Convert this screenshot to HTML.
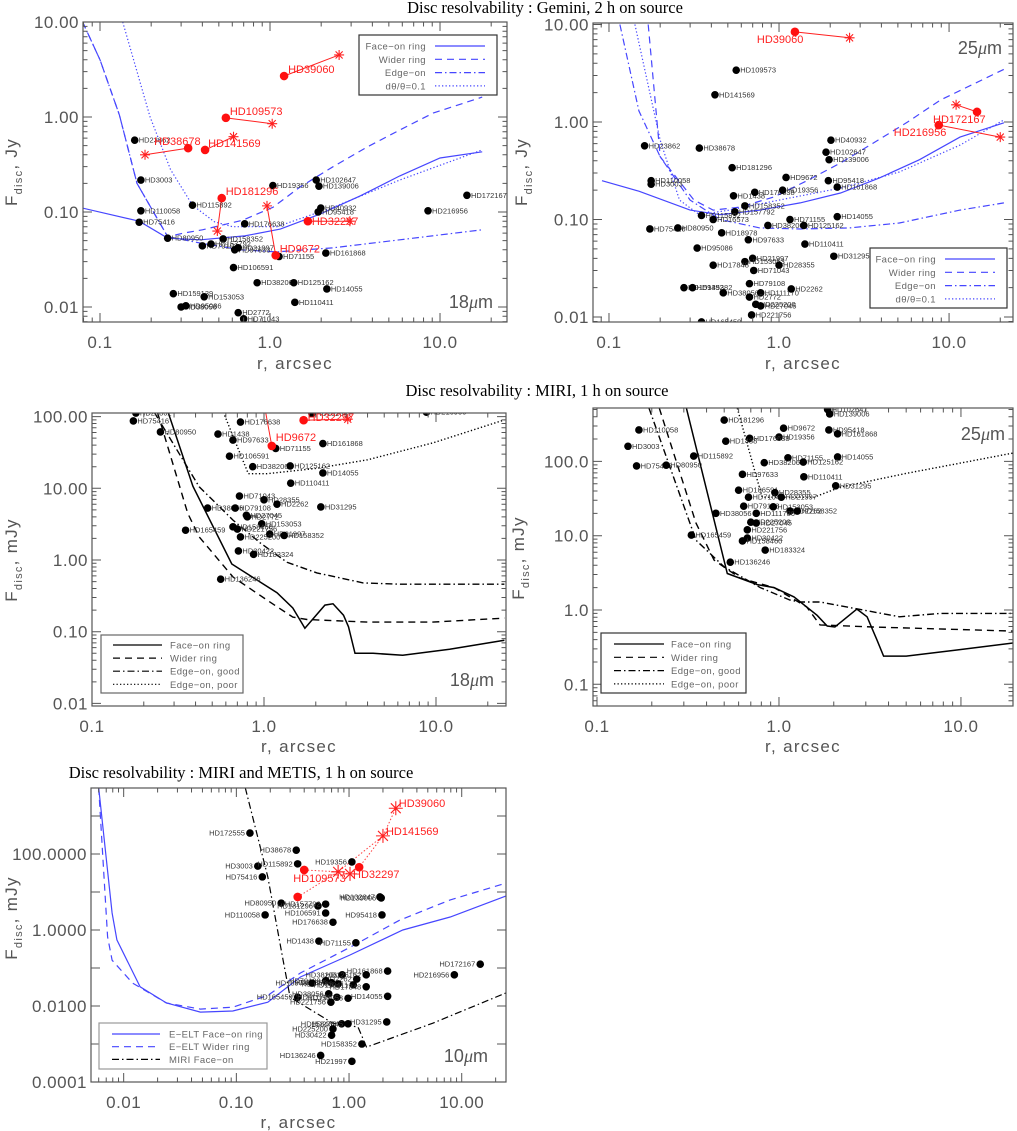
<!DOCTYPE html>
<html><head><meta charset="utf-8"><style>
body{margin:0;background:#fff}
svg{display:block}
text{font-family:"Liberation Sans",sans-serif}
.tt{font-family:"Liberation Serif",serif;font-size:16.5px;fill:#000}
.tk{font-size:17px;fill:#555;letter-spacing:0.5px}
.ax{font-size:17px;fill:#555;letter-spacing:1.3px}
.lb{font-size:7.5px;fill:#333}
.rl{font-size:11px;fill:#ff2020}
.lg{font-size:9.5px;fill:#666;letter-spacing:0.4px}
.wl{font-size:18px;fill:#555}
</style></head><body>
<svg id="chart" width="1017" height="1131" viewBox="0 0 1017 1131" xmlns="http://www.w3.org/2000/svg">
<text class="tt" x="545" y="13" text-anchor="middle">Disc resolvability : Gemini, 2 h on source</text>
<text class="tt" x="537" y="396" text-anchor="middle">Disc resolvability : MIRI, 1 h on source</text>
<text class="tt" x="241" y="778" text-anchor="middle">Disc resolvability : MIRI and METIS, 1 h on source</text>
</svg>
<script>
// ===== Panel A: Gemini 18um =====
const aNames=["HD23862","HD3003","HD110058","HD75416","HD80950","HD115892","HD19356","HD102647","HD139006","HD40932","HD95418","HD172167","HD216956","HD176638","HD158352","HD79108","HD157792","HD97633","HD21997","HD71155","HD161868","HD106591","HD38206","HD125162","HD14055","HD110411","HD159139","HD153053","HD38056","HD95086","HD2772","HD71043"];
const aR=[.16,.174,.174,.17,.25,.35,1.04,1.87,1.94,1.99,1.92,14.4,8.5,.71,.53,.40,.45,.62,.65,1.13,2.13,.61,.84,1.38,2.16,1.40,.27,.41,.30,.32,.65,.70];
const aF=[.57,.217,.103,.078,.053,.118,.19,.217,.187,.11,.10,.15,.103,.075,.052,.044,.046,.040,.042,.034,.037,.026,.018,.018,.0155,.0112,.0138,.0128,.010,.0103,.0087,.0075];
const aRedNames=["HD39060","HD109573","HD38678","HD141569","HD181296","HD9672","HD32297"];
const aRedCR=[1.21,.55,.33,.415,.52,1.08,1.67];
const aRedCF=[2.7,.98,.47,.45,.14,.035,.08];
const aRedSR=[2.55,1.03,.184,.61,.49,.96,2.95];
const aRedSF=[4.5,.85,.40,.62,.063,.116,.08];
const aFaceR=[.079,.17,.25,.39,.71,1.15,1.97,3.4,5.8,10,17.7];
const aFaceF=[.11,.080,.053,.051,.056,.066,.095,.148,.24,.37,.43];
const aWideR=[.079,.1,.13,.165,.25,.31,.40,.69,1.04,1.5,2.35,3.7,5.8,9.1,17.7];
const aWideF=[10,4,1.05,.2,.055,.06,.065,.082,.112,.183,.3,.48,.73,1.1,1.62];
const aEdgeR=[.079,.1,.13,.165,.25,.39,.67,1.1,2.35,5.8,17.7];
const aEdgeF=[10,4,1.05,.2,.055,.047,.04,.038,.042,.051,.065];
const aDotR=[.136,.197,.26,.35,.47,.6,1.1,2.35,5.8,17.7];
const aDotF=[10,1,.28,.118,.079,.07,.07,.112,.217,.45];

// ===== Panel B: Gemini 25um =====
const bNames=["HD109573","HD141569","HD23862","HD38678","HD181296","HD40932","HD102647","HD139006","HD9672","HD95418","HD161868","HD110058","HD3003","HD1438","HD176638","HD19356","HD158352","HD157792","HD115892","HD16573","HD71155","HD38206","HD125162","HD14055","HD75416","HD80950","HD18978","HD97633","HD110411","HD95086","HD31295","HD21997","HD153053","HD28355","HD71043","HD17848","HD79108","HD159492","HD135382","HD38056","HD111170","HD2772","HD2262","HD225200","HD27045","HD221756","HD165459"];
const bR=[.56,.42,.162,.34,.53,2.02,1.89,1.97,1.1,1.95,2.2,.177,.177,.54,.72,1.05,.63,.55,.35,.41,1.16,.86,1.4,2.2,.174,.254,.46,.66,1.42,.33,2.1,.70,.63,1.0,.71,.41,.67,.276,.31,.47,.78,.67,1.18,.73,.78,.69,.35];
const bF=[3.4,1.9,.57,.54,.34,.65,.49,.41,.27,.25,.215,.25,.23,.175,.19,.2,.138,.12,.11,.10,.10,.087,.087,.107,.08,.082,.073,.062,.056,.051,.042,.04,.037,.034,.030,.034,.022,.020,.020,.0177,.0177,.016,.0194,.0135,.013,.0105,.0089];
const bRedNames=["HD39060","HD172167","HD216956"];
const bRedCR=[1.24,14.6,8.7];
const bRedCF=[8.4,1.27,.93];
const bRedSR=[2.6,11,20];
const bRedSF=[7.3,1.5,.70];
const bFaceR=[.091,.15,.3,.45,.77,1.33,2.3,3.9,6.7,11.6,21];
const bFaceF=[.25,.195,.125,.112,.125,.148,.187,.267,.41,.70,.98];
const bWideR=[.17,.2,.316,.41,.59,.93,1.46,2.3,3.6,5.7,8.9,22];
const bWideF=[10,.44,.158,.125,.134,.17,.25,.38,.61,1.0,1.68,3.6];
const bEdgeR=[.116,.15,.2,.3,.45,.77,1.33,2.6,5.1,11.6,21];
const bEdgeF=[10,1.3,.44,.158,.1,.082,.08,.082,.092,.125,.148];
const bDotR=[.142,.2,.26,.34,.51,1.0,2.3,5.1,11.6,21];
const bDotF=[10,.65,.158,.112,.125,.158,.21,.307,.58,1.05];

// ===== Panel C: MIRI 18um =====
const cNames=["HD23862","HD75416","HD80950","HD176638","HD1438","HD97633","HD71155","HD161868","HD106591","HD38206","HD125162","HD14055","HD110411","HD71043","HD28355","HD2262","HD31295","HD38056","HD79108","HD27045","HD2772","HD153053","HD158460","HD221756","HD165459","HD21997","HD158352","HD225200","HD30422","HD183324","HD136246","HD102647","HD216956"];
const cR=[.18,.174,.25,.73,.54,.66,1.17,2.2,.63,.86,1.42,2.2,1.43,.72,1.0,1.19,2.14,.47,.68,.79,.80,.97,.66,.70,.35,1.08,1.31,.73,.71,.87,.56,1.9,8.8];
const cF=[112,87,61,84,57,47,36,42,28,20,20.5,16.4,11.8,7.8,6.9,6,5.5,5.3,5.3,4.2,4.0,3.2,2.9,2.7,2.6,2.3,2.2,2.1,1.34,1.2,.54,110,115];
const cRedNames=["HD32297","HD9672"];
const cRedCR=[1.7,1.11];
const cRedCF=[89,39];
const cRedSR=[3.07,.98];
const cRedSF=[92,200];
const cFaceR=[.277,.386,.65,1.19,1.47,1.73,2.26,2.52,2.9,3.1,3.38,4.3,6.4,12,25];
const cFaceF=[115,10.7,.88,.35,.214,.112,.235,.245,.17,.117,.05,.05,.047,.057,.076];
const cWideR=[.24,.36,.42,.66,1.04,1.47,1.78,4.0,9.6,25];
const cWideF=[115,4.5,2.1,.58,.277,.16,.148,.136,.136,.155];
const cGoodR=[.23,.42,.66,.95,1.36,2.03,3.77,6.2,25];
const cGoodF=[115,10.5,3.6,1.73,.93,.66,.48,.46,.46];
const cPoorR=[.58,.81,1.04,2.03,4,9.6,25];
const cPoorF=[115,16,16,19,25,43,90];

// ===== Panel D: MIRI 25um =====
const dNames=["HD139006","HD102647","HD181296","HD9672","HD95418","HD110058","HD161868","HD19356","HD176638","HD1438","HD3003","HD115892","HD14055","HD71155","HD38206","HD125162","HD75416","HD80950","HD97633","HD110411","HD31295","HD106591","HD28355","HD71043","HD21997","HD79108","HD153053","HD2262","HD158352","HD38056","HD111786","HD225200","HD27045","HD221756","HD165459","HD30422","HD158460","HD183324","HD136246"];
const dR=[1.9,1.85,.5,1.06,1.88,.17,2.1,1.0,.69,.51,.148,.34,2.1,1.12,.83,1.36,.165,.24,.63,1.37,2.05,.6,.95,.68,1.03,.64,.93,1.15,1.26,.45,.75,.70,.75,.67,.33,.67,.63,.84,.54];
const dF=[435,500,360,280,265,265,235,213,205,187,160,118,115,112,96,98,87,89,67,62,47,41,38,33,33,25,24.5,21.5,21.5,20,20,15.2,14.8,12,10.2,9.3,8.5,6.4,4.4];
const dFaceR=[.31,.52,.76,.94,1.21,1.62,1.84,2.03,2.68,3.05,3.45,3.76,5.0,9.5,19.4];
const dFaceF=[520,3.1,2.2,2.0,1.5,.85,.61,.59,1.03,.81,.4,.24,.24,.29,.36];
const dWideR=[.22,.35,.44,.61,.94,1.42,1.68,3.3,19.4];
const dWideF=[520,14.8,4.7,2.7,2.0,1.1,.63,.59,.52];
const dGoodR=[.193,.35,.50,.79,1.15,1.3,1.68,2.9,4.6,7.7,19.4];
const dGoodF=[520,8.7,3.8,2.0,1.36,1.28,1.28,1.0,.81,.9,.9];
const dPoorR=[.59,.76,.81,1.56,2.17,5.0,19.4];
const dPoorF=[520,56,33,33,45,69,130];

// ===== Panel E: MIRI and METIS 10um =====
const eNames=["HD172555","HD38678","HD3003","HD115892","HD19356","HD75416","HD102647","HD139006","HD80950","HD181296","HD157792","HD106591","HD110058","HD95418","HD176638","HD1438","HD71155","HD172167","HD216956","HD161868","HD38206","HD125162","HD2262","HD79108","HD28355","HD97633","HD18978","HD110411","HD17848","HD165459","HD38056","HD111786","HD153053","HD14055","HD221756","HD31295","HD158460","HD27045","HD225200","HD30422","HD158352","HD136246","HD21997"];
const eR=[.132,.34,.155,.35,1.06,.17,1.88,1.93,.25,.53,.62,.62,.18,1.96,.72,.54,1.15,14.6,8.6,2.2,.87,1.42,1.17,.62,.70,.80,.47,1.09,1.42,.35,.66,.78,.98,2.2,.69,2.16,.86,.98,.72,.70,1.3,.56,1.06];
const eF=[355,126,48,55,62,25,7.4,7,5.1,4.3,4.8,2.8,2.5,2.5,1.6,.51,.46,.126,.066,.083,.066,.066,.051,.046,.041,.038,.040,.036,.032,.017,.021,.017,.016,.018,.0126,.0038,.0034,.0034,.0025,.0017,.001,.0005,.00035];
const eRedNames=["HD109573","HD32297",""];
const eRedCR=[.4,1.23,.35];
const eRedCF=[38,45,7.4];
const eStarNames=["HD109573s","HD32297","HD141569","HD39060"];
const eStarR=[.8,1.02,2.0,2.6];
const eStarF=[34,30,300,1600];
const eChainR=[.35,.8,2.0,2.6];
const eChainF=[7.4,34,300,1600];
const eChain2R=[.4,.8,1.02,1.23,2.0];
const eChain2F=[38,34,30,45,300];
const eFaceR=[.006,.0079,.0087,.014,.024,.048,.093,.19,.37,1.02,3.0,7.9,24.6];
const eFaceF=[5500,2.8,.55,.032,.012,.0069,.0074,.0126,.058,.22,1.0,2.2,7.8];
const eWideR=[.006,.0072,.0079,.012,.024,.048,.093,.19,.37,1.02,2.8,7.9,24.6];
const eWideF=[5500,.66,.16,.04,.012,.0083,.0093,.019,.074,.35,1.8,6.2,17];
const eMiriR=[.12,.19,.26,.3,.72,1.2,1.43,5.5,24.6];
const eMiriF=[5500,25,.16,.017,.0035,.0028,.00083,.0035,.022];

// ---------- drawing ----------
const NS="http://www.w3.org/2000/svg";
const svg=document.getElementById('chart');
function mk(tag,attrs,parent){const el=document.createElementNS(NS,tag);for(const k in attrs)el.setAttribute(k,attrs[k]);(parent||svg).appendChild(el);return el;}
const BLUE="#4646ff";
let clipN=0;

function panel(P){
  const [x0,x1,y0,y1]=P.box;
  const sx=v=>x0+(Math.log10(v)-P.lx[0])/(P.lx[1]-P.lx[0])*(x1-x0);
  const sy=v=>y1-(Math.log10(v)-P.ly[0])/(P.ly[1]-P.ly[0])*(y1-y0);
  const g=mk('g',{});
  
  
  const cid='clip'+(clipN++);
  const cp=mk('clipPath',{id:cid},g);
  mk('rect',{x:x0,y:y0,width:x1-x0,height:y1-y0},cp);
  const pg=mk('g',{'clip-path':'url(#'+cid+')'},g);
  
  
  // curves
  P.curves.forEach(c=>{
    const d=c.r.map((r,i)=>(i?'L':'M')+sx(r).toFixed(1)+','+sy(c.f[i]).toFixed(1)).join('');
    const p=mk('path',{d:d,fill:'none',stroke:c.color,'stroke-width':c.w||1.2,'stroke-dasharray':c.dash||'none'},pg);
    
    
  });
  // red connections
  if(P.red){
    const R=P.red;
    R.names.forEach((n,i)=>{
      if(R.sr){
        const l=mk('line',{x1:sx(R.cr[i]),y1:sy(R.cf[i]),x2:sx(R.sr[i]),y2:sy(R.sf[i]),stroke:'#ff2020','stroke-width':1},pg);
        
        
        star(pg,sx(R.sr[i]),sy(R.sf[i]),5,n);
      }
    });
  }
  if(P.chains){
    P.chains.forEach(ch=>{
      const d=ch.r.map((r,i)=>(i?'L':'M')+sx(r).toFixed(1)+','+sy(ch.f[i]).toFixed(1)).join('');
      const p=mk('path',{d:d,fill:'none',stroke:'#ff4040','stroke-width':1,'stroke-dasharray':'1.5,2'},pg);
      
      
    });
    P.stars.names.forEach((n,i)=>{star(pg,sx(P.stars.r[i]),sy(P.stars.f[i]),7,n);});
  }
  // black points
  P.names.forEach((n,i)=>{
    const cx=sx(P.r[i]),cy=sy(P.f[i]);
    const c=mk('circle',{cx:cx,cy:cy,r:3.8,fill:'#000'},pg);
    
    
    const t=mk('text',{x:P.labLeft?cx-5:cx+4,y:cy+2.5,class:'lb','text-anchor':P.labLeft?'end':'start'},pg);
    t.textContent=n;
    
    
  });
  // red circles
  if(P.red){
    const R=P.red;
    R.names.forEach((n,i)=>{
      const cx=sx(R.cr[i]),cy=sy(R.cf[i]);
      const c=mk('circle',{cx:cx,cy:cy,r:4.3,fill:'#ff1010'},pg);
      
      
    });
  }
  // red labels
  (P.redLabels||[]).forEach(L=>{
    const t=mk('text',{x:L.x,y:L.y,class:'rl'},g);
    t.textContent=L.t;
    
    
  });
  // frame
  const fr=mk('rect',{x:x0,y:y0,width:x1-x0,height:y1-y0,fill:'none',stroke:'#555','stroke-width':1.2},g);
  
  
  // ticks
  let tk='';
  for(let d=Math.floor(P.lx[0]);d<=Math.ceil(P.lx[1]);d++){
    for(let k=1;k<10;k++){
      const v=k*Math.pow(10,d),L=Math.log10(v);
      if(L<P.lx[0]-1e-6||L>P.lx[1]+1e-6)continue;
      const x=sx(v),len=k==1?9:4.5;
      tk+=`M${x},${y1}v${-len}M${x},${y0}v${len}`;
    }
  }
  for(let d=Math.floor(P.ly[0]);d<=Math.ceil(P.ly[1]);d++){
    for(let k=1;k<10;k++){
      if(P.noMinorY&&k>1)continue;
      const v=k*Math.pow(10,d),L=Math.log10(v);
      if(L<P.ly[0]-1e-6||L>P.ly[1]+1e-6)continue;
      const y=sy(v),len=k==1?9:4.5;
      tk+=`M${x0},${y}h${len}M${x1},${y}h${-len}`;
    }
  }
  const tp=mk('path',{d:tk,stroke:'#555','stroke-width':1,fill:'none'},g);
  
  
  P.xt.forEach((v,i)=>{
    const t=mk('text',{x:sx(v),y:y1+26,class:'tk','text-anchor':'middle'},g);
    t.textContent=P.xtl[i];
    
    
  });
  P.yt.forEach((v,i)=>{
    const t=mk('text',{x:x0-4,y:sy(v)+6,class:'tk','text-anchor':'end'},g);
    t.textContent=P.ytl[i];
    
    
  });
  const xt=mk('text',{x:(x0+x1)/2,y:P.xlabY,class:'ax','text-anchor':'middle'},g);
  xt.textContent='r, arcsec';
  
  
  const yt=mk('text',{transform:`translate(${P.ylab[0]},${P.ylab[1]}) rotate(-90)`,class:'ax','text-anchor':'middle'},g);
  yt.innerHTML='F<tspan font-size="11" dy="5">disc</tspan><tspan dy="-5">, '+P.unit+'</tspan>';
  
  
  const wl=mk('text',{x:P.wl[0],y:P.wl[1],class:'wl','text-anchor':'end'},g);
  wl.innerHTML=P.wave+'<tspan font-family="Liberation Serif" font-style="italic">μ</tspan>m';
  
  
  // legend
  const Lg=P.legend;
  const lg=mk('g',{},g);
  
  
  mk('rect',{x:Lg.box[0],y:Lg.box[1],width:Lg.box[2],height:Lg.box[3],fill:'#fff',stroke:Lg.stroke||'#333','stroke-width':1.2},lg);
  Lg.items.forEach((it,i)=>{
    const y=Lg.y0+i*Lg.dy;
    const ln=mk('line',{x1:Lg.lx[0],x2:Lg.lx[1],y1:y,y2:y,stroke:it.color,'stroke-width':1.2,'stroke-dasharray':it.dash||'none'},lg);
    
    
    const t=mk('text',{x:Lg.tx,y:y+3.5,class:'lg','text-anchor':Lg.anchor},lg);
    t.innerHTML=it.t;
    
    
  });
}
function star(parent,x,y,s,n){
  let d='';
  for(let a=0;a<4;a++){const t=a*Math.PI/4;d+=`M${x-s*Math.cos(t)},${y-s*Math.sin(t)}L${x+s*Math.cos(t)},${y+s*Math.sin(t)}`;}
  const p=mk('path',{d:d,stroke:'#ff2020','stroke-width':1.1,fill:'none'},parent);
  
  
}
const DASH='7,5',DDOT='7,3,1.5,3',DOT='1.3,2.2';
const xt3=[0.1,1,10],xtl3=["0.1","1.0","10.0"];
function redLab(R,sxo,syo,offs,P){
  return R.names.map((n,i)=>({t:n,x:0,y:0,i:i}));
}
// panel configs
const PA={name:'panel-gemini-18um',box:[83,507,22,322],lx:[-1.1,1.394],ly:[-2.158,1.0],unit:'Jy',
  xt:xt3,xtl:xtl3,yt:[.01,.1,1,10],ytl:["0.01","0.10","1.00","10.00"],xlabY:369,ylab:[17,172],wl:[493,308],wave:'18',
  names:aNames,r:aR,f:aF,red:{names:aRedNames,cr:aRedCR,cf:aRedCF,sr:aRedSR,sf:aRedSF},
  curves:[{name:'face-on-ring',r:aFaceR,f:aFaceF,color:BLUE},{name:'wider-ring',r:aWideR,f:aWideF,color:BLUE,dash:DASH},{name:'edge-on',r:aEdgeR,f:aEdgeF,color:BLUE,dash:DDOT},{name:'dtheta-0.1',r:aDotR,f:aDotF,color:BLUE,dash:DOT}],
  legend:{box:[359,35,138,60],y0:46,dy:13.3,lx:[435,485],tx:426,anchor:'end',items:[{t:'Face−on ring',color:BLUE},{t:'Wider ring',color:BLUE,dash:DASH},{t:'Edge−on',color:BLUE,dash:DDOT},{t:'dθ/θ=0.1',color:BLUE,dash:DOT}]}};
const PB={name:'panel-gemini-25um',box:[593,1013,23,322],lx:[-1.094,1.376],ly:[-2.051,1.015],unit:'Jy',
  xt:xt3,xtl:xtl3,yt:[.01,.1,1,10],ytl:["0.01","0.10","1.00","10.00"],xlabY:369,ylab:[527,172],wl:[1002,54],wave:'25',
  names:bNames,r:bR,f:bF,red:{names:bRedNames,cr:bRedCR,cf:bRedCF,sr:bRedSR,sf:bRedSF},
  curves:[{name:'face-on-ring',r:bFaceR,f:bFaceF,color:BLUE},{name:'wider-ring',r:bWideR,f:bWideF,color:BLUE,dash:DASH},{name:'edge-on',r:bEdgeR,f:bEdgeF,color:BLUE,dash:DDOT},{name:'dtheta-0.1',r:bDotR,f:bDotF,color:BLUE,dash:DOT}],
  legend:{box:[870,248,137,60],y0:259,dy:13.3,lx:[945,995],tx:936,anchor:'end',items:[{t:'Face−on ring',color:BLUE},{t:'Wider ring',color:BLUE,dash:DASH},{t:'Edge−on',color:BLUE,dash:DDOT},{t:'dθ/θ=0.1',color:BLUE,dash:DOT}]}};
const PC={name:'panel-miri-18um',box:[92,506,413,706],lx:[-1.0,1.407],ly:[-2.036,2.05],unit:'mJy',
  xt:xt3,xtl:xtl3,yt:[.01,.1,1,10,100],ytl:["0.01","0.10","1.00","10.00","100.00"],xlabY:752,ylab:[17,560],wl:[494,686],wave:'18',
  names:cNames,r:cR,f:cF,red:{names:cRedNames,cr:cRedCR,cf:cRedCF,sr:cRedSR,sf:cRedSF},
  curves:[{name:'face-on-ring',r:cFaceR,f:cFaceF,color:'#000',w:1.5},{name:'wider-ring',r:cWideR,f:cWideF,color:'#000',dash:DASH,w:1.4},{name:'edge-on-good',r:cGoodR,f:cGoodF,color:'#000',dash:DDOT,w:1.4},{name:'edge-on-poor',r:cPoorR,f:cPoorF,color:'#000',dash:DOT,w:1.4}],
  legend:{box:[101,635,142,58],stroke:'#666',y0:645,dy:13.1,lx:[113,162],tx:170,anchor:'start',items:[{t:'Face−on ring',color:'#000'},{t:'Wider ring',color:'#000',dash:DASH},{t:'Edge−on, good',color:'#000',dash:DDOT},{t:'Edge−on, poor',color:'#000',dash:DOT}]}};
const PD={name:'panel-miri-25um',box:[593,1013,408,706],lx:[-1.022,1.286],ly:[-1.292,2.719],unit:'mJy',
  xt:xt3,xtl:xtl3,yt:[.1,1,10,100],ytl:["0.1","1.0","10.0","100.0"],xlabY:752,ylab:[524,558],wl:[1005,440],wave:'25',
  names:dNames,r:dR,f:dF,
  curves:[{name:'face-on-ring',r:dFaceR,f:dFaceF,color:'#000',w:1.5},{name:'wider-ring',r:dWideR,f:dWideF,color:'#000',dash:DASH,w:1.4},{name:'edge-on-good',r:dGoodR,f:dGoodF,color:'#000',dash:DDOT,w:1.4},{name:'edge-on-poor',r:dPoorR,f:dPoorF,color:'#000',dash:DOT,w:1.4}],
  legend:{box:[601,633,145,60],y0:644,dy:13.3,lx:[614,664],tx:671,anchor:'start',items:[{t:'Face−on ring',color:'#000'},{t:'Wider ring',color:'#000',dash:DASH},{t:'Edge−on, good',color:'#000',dash:DDOT},{t:'Edge−on, poor',color:'#000',dash:DOT}]}};
const PE={name:'panel-miri-metis-10um',box:[91,506,788,1082],lx:[-2.29,1.393],ly:[-4.0,3.737],unit:'mJy',noMinorY:true,labLeft:true,
  xt:[.01,.1,1,10],xtl:["0.01","0.10","1.00","10.00"],yt:[1e-4,1e-2,1,100],ytl:["0.0001","0.0100","1.0000","100.0000"],xlabY:1128,ylab:[17,918],wl:[488,1062],wave:'10',
  names:eNames,r:eR,f:eF,red:{names:eRedNames,cr:eRedCR,cf:eRedCF},chains:[{r:eChainR,f:eChainF},{r:eChain2R,f:eChain2F}],stars:{names:eStarNames,r:eStarR,f:eStarF},
  curves:[{name:'eelt-face-on-ring',r:eFaceR,f:eFaceF,color:BLUE},{name:'eelt-wider-ring',r:eWideR,f:eWideF,color:BLUE,dash:DASH},{name:'miri-face-on',r:eMiriR,f:eMiriF,color:'#000',dash:DDOT}],
  legend:{box:[99,1023,168,46],stroke:'#999',y0:1034,dy:12.7,lx:[112,160],tx:169,anchor:'start',items:[{t:'E−ELT Face−on ring',color:BLUE},{t:'E−ELT Wider ring',color:BLUE,dash:DASH},{t:'MIRI Face−on',color:'#000',dash:DDOT}]}};

// red label placement (relative to marker, pixels)
function placeRed(P,R,offs,rArr,fArr){
  const [x0,x1,y0,y1]=P.box;
  const sx=v=>x0+(Math.log10(v)-P.lx[0])/(P.lx[1]-P.lx[0])*(x1-x0);
  const sy=v=>y1-(Math.log10(v)-P.ly[0])/(P.ly[1]-P.ly[0])*(y1-y0);
  P.redLabels=R.map((n,i)=>({t:n,x:sx(rArr[i])+offs[i][0],y:sy(fArr[i])+offs[i][1]}));
}
placeRed(PA,aRedNames,[[4,-3],[4,-3],[-34,-3],[3,-3],[4,-3],[4,-3],[4,4]],aRedCR,aRedCF);
placeRed(PB,bRedNames,[[-38,11],[-44,11],[-45,11]],bRedCR,bRedCF);
placeRed(PC,cRedNames,[[4,1],[4,-5]],cRedCR,cRedCF);
placeRed(PE,["HD109573","HD32297","HD141569","HD39060"],[[-11,12],[3,4],[3,-1],[3,-1]],[eRedCR[0],eStarR[1],eStarR[2],eStarR[3]],[eRedCF[0],eStarF[1],eStarF[2],eStarF[3]]);
[PA,PB,PC,PD,PE].forEach(panel);
</script>
</body></html>
